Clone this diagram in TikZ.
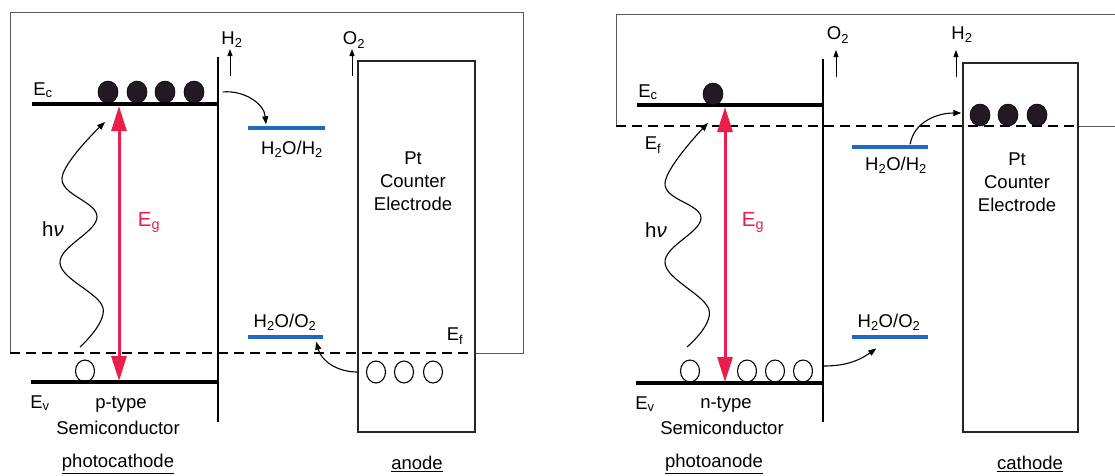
\documentclass[tikz,border=0pt]{standalone}
\usepackage{fontspec}
\setmainfont{Liberation Sans}
\usetikzlibrary{arrows.meta,shapes.geometric}
\definecolor{gapred}{RGB}{234,30,74}
\definecolor{redoxblue}{RGB}{30,105,195}
\definecolor{elecfill}{RGB}{35,25,35}
\tikzset{
  band/.style={line width=3.2pt, line cap=butt},
  iface/.style={line width=2.5pt},
  thinline/.style={line width=1pt, black!65},
  boxline/.style={line width=1.3pt, black!85},
  fermi/.style={line width=2.2pt, dash pattern=on 10pt off 6pt},
  redox/.style={line width=4pt, redoxblue},
  gaparrow/.style={line width=3pt, gapred, {Triangle[width=15pt,length=25pt]}-{Triangle[width=15pt,length=25pt]}},
  elec/.style={ellipse, fill=elecfill, draw=black, line width=0.6pt, minimum width=20pt, minimum height=22pt, inner sep=0pt},
  hole/.style={ellipse, draw=black, line width=1.1pt, minimum width=19pt, minimum height=22pt, inner sep=0pt},
  gas/.style={line width=1pt, -{Triangle[width=5pt,length=7pt]}},
  flow/.style={line width=1.1pt, -{Triangle[width=6pt,length=8pt]}},
  wave/.style={line width=1.1pt, -{Triangle[width=6pt,length=8pt]}},
  lbl/.style={inner sep=0pt, font=\fontsize{18.5}{23}\selectfont},
  biglbl/.style={inner sep=0pt, font=\fontsize{20.5}{24}\selectfont},
}
\begin{document}
\begin{tikzpicture}[x=1pt,y=-1pt]
\useasboundingbox (0,0) rectangle (1115,475);

% ================= LEFT PANEL =================
\coordinate (Lfb) at (10,353);
\coordinate (Lft) at (10,12);
\coordinate (Lrt) at (523,12);
\coordinate (Lrb) at (523,353);
\coordinate (Lpr) at (475,353);
\draw[thinline] (Lfb) -- (Lft) -- (Lrt) -- (Lrb) -- (Lpr);
\draw[fermi] (Lfb) -- (Lpr);

\coordinate (LEc1) at (32,104); \coordinate (LEc2) at (218,104);
\coordinate (LEv1) at (31,382); \coordinate (LEv2) at (218,382);
\coordinate (LI1) at (218,57); \coordinate (LI2) at (218,422);
\draw[band] (LEc1) -- (LEc2);
\draw[band] (LEv1) -- (LEv2);
\draw[iface] (LI1) -- (LI2);

\node[elec] (Le1) at (108,92) {};
\node[elec] (Le2) at (137,92) {};
\node[elec] (Le3) at (165,92) {};
\node[elec] (Le4) at (194,92) {};
\node[hole] (Lh1) at (85,371) {};

\coordinate (LEgT) at (119,106); \coordinate (LEgB) at (119,381);
\draw[gaparrow] (LEgT) -- (LEgB);
\node[biglbl, text=gapred] (LEg) at (149,222) {E\textsubscript{g}};

\draw[wave] plot[smooth, tension=0.65] coordinates {(80,347) (103,308) (60,263) (97,217) (62,178) (105,122)};
\node[biglbl] (Lhv) at (53,229) {h\textit{ν}};

\node[lbl] (LEc) at (43,90) {E\textsubscript{c}};
\node[lbl] (LEv) at (40,403) {E\textsubscript{v}};
\node[lbl] (Lptype) at (121,404) {p-type};
\node[lbl] (Lsemi) at (118,428) {Semiconductor};
\node[lbl] (Lphoto) at (118,464) {\underline{photocathode}};

\coordinate (LH2a) at (230,76); \coordinate (LH2b) at (230,49);
\draw[gas] (LH2a) -- (LH2b);
\node[lbl] (LH2) at (232,40) {H\textsubscript{2}};

\node[inner sep=0pt] (LflowS) at (222,92) {};
\node[inner sep=0pt] (LflowE) at (266,125) {};
\draw[flow] (LflowS) to[out=5, in=95] (LflowE);

\coordinate (LHH1) at (248,128); \coordinate (LHH2) at (325,128);
\draw[redox] (LHH1) -- (LHH2);
\node[lbl] (LHHl) at (292,149) {H\textsubscript{2}O/H\textsubscript{2}};

\coordinate (LO2a) at (352,76); \coordinate (LO2b) at (352,49);
\draw[gas] (LO2a) -- (LO2b);
\node[lbl] (LO2) at (354,40) {O\textsubscript{2}};

\node[boxline, draw, minimum width=117pt, minimum height=371pt, inner sep=0pt] (LPt) at (416.5,246.5) {};
\node[lbl, align=center] (LPtT) at (413,181) {Pt\\Counter\\Electrode};

\coordinate (LHO1) at (248,337); \coordinate (LHO2) at (323,337);
\draw[redox] (LHO1) -- (LHO2);
\node[lbl] (LHOl) at (285,322) {H\textsubscript{2}O/O\textsubscript{2}};

\node[inner sep=0pt] (LflowA) at (358,372) {};
\node[inner sep=0pt] (LflowB) at (316,341) {};
\draw[flow] (LflowA) to[out=180, in=-75] (LflowB);

\node[hole] (Lph1) at (376,372) {};
\node[hole] (Lph2) at (404,372) {};
\node[hole] (Lph3) at (433,372) {};
\node[lbl] (LEf) at (455,336) {E\textsubscript{f}};
\node[lbl] (Lanode) at (417,464) {\underline{anode}};

% ================= RIGHT PANEL =================
\coordinate (Rfb) at (616,126);
\coordinate (Rft) at (616,14);
\coordinate (Rrt) at (1115,14);
\coordinate (Rpr) at (1078,126);
\coordinate (Rrb) at (1115,126);
\draw[thinline] (Rfb) -- (Rft) -- (Rrt);
\draw[thinline] (Rpr) -- (Rrb);
\draw[fermi] (Rfb) -- (Rpr);

\coordinate (REc1) at (637,105); \coordinate (REc2) at (823,105);
\coordinate (REv1) at (636,383); \coordinate (REv2) at (823,383);
\coordinate (RI1) at (823,59); \coordinate (RI2) at (823,422);
\draw[band] (REc1) -- (REc2);
\draw[band] (REv1) -- (REv2);
\draw[iface] (RI1) -- (RI2);

\node[elec] (Re1) at (713,94) {};

\coordinate (REgT) at (725,107); \coordinate (REgB) at (725,382);
\draw[gaparrow] (REgT) -- (REgB);
\node[biglbl, text=gapred] (REg) at (753,222) {E\textsubscript{g}};

\draw[wave] plot[smooth, tension=0.65] coordinates {(687,347) (709,310) (665,263) (701,218) (665,183) (708,123)};
\node[biglbl] (Rhv) at (656,230) {h\textit{ν}};

\node[lbl] (REc) at (648,92) {E\textsubscript{c}};
\node[lbl] (REf) at (653,145) {E\textsubscript{f}};
\node[lbl] (REv) at (645,404) {E\textsubscript{v}};

\node[hole] (Rh1) at (690,371) {};
\node[hole] (Rh2) at (747,371) {};
\node[hole] (Rh3) at (775,371) {};
\node[hole] (Rh4) at (803,371) {};

\node[lbl] (Rntype) at (726,404) {n-type};
\node[lbl] (Rsemi) at (722,428) {Semiconductor};
\node[lbl] (Rphoto) at (714,464) {\underline{photoanode}};

\node[inner sep=0pt] (RflowA) at (823,366) {};
\node[inner sep=0pt] (RflowB) at (877,348) {};
\draw[flow] (RflowA) to[out=0, in=-145] (RflowB);

\coordinate (RHO1) at (852,337); \coordinate (RHO2) at (928,337);
\draw[redox] (RHO1) -- (RHO2);
\node[lbl] (RHOl) at (889,322) {H\textsubscript{2}O/O\textsubscript{2}};

\coordinate (RO2a) at (836,77); \coordinate (RO2b) at (836,50);
\draw[gas] (RO2a) -- (RO2b);
\node[lbl] (RO2) at (838,35) {O\textsubscript{2}};

\coordinate (RH2a) at (956,77); \coordinate (RH2b) at (956,50);
\draw[gas] (RH2a) -- (RH2b);
\node[lbl] (RH2) at (962,35) {H\textsubscript{2}};

\node[boxline, draw, minimum width=115pt, minimum height=369pt, inner sep=0pt] (RPt) at (1020.5,247.5) {};
\node[lbl, align=center] (RPtT) at (1017,182) {Pt\\Counter\\Electrode};

\node[elec] (Re2) at (980,115) {};
\node[elec] (Re3) at (1008,115) {};
\node[elec] (Re4) at (1037,115) {};

\coordinate (RHH1) at (852,147); \coordinate (RHH2) at (928,147);
\draw[redox] (RHH1) -- (RHH2);
\node[lbl] (RHHl) at (896,165) {H\textsubscript{2}O/H\textsubscript{2}};

\node[inner sep=0pt] (RflowC) at (910,145) {};
\node[inner sep=0pt] (RflowD) at (962,113) {};
\draw[flow] (RflowC) to[out=80, in=180] (RflowD);

\node[lbl] (Rcathode) at (1030,464) {\underline{cathode}};
\end{tikzpicture}
\end{document}
